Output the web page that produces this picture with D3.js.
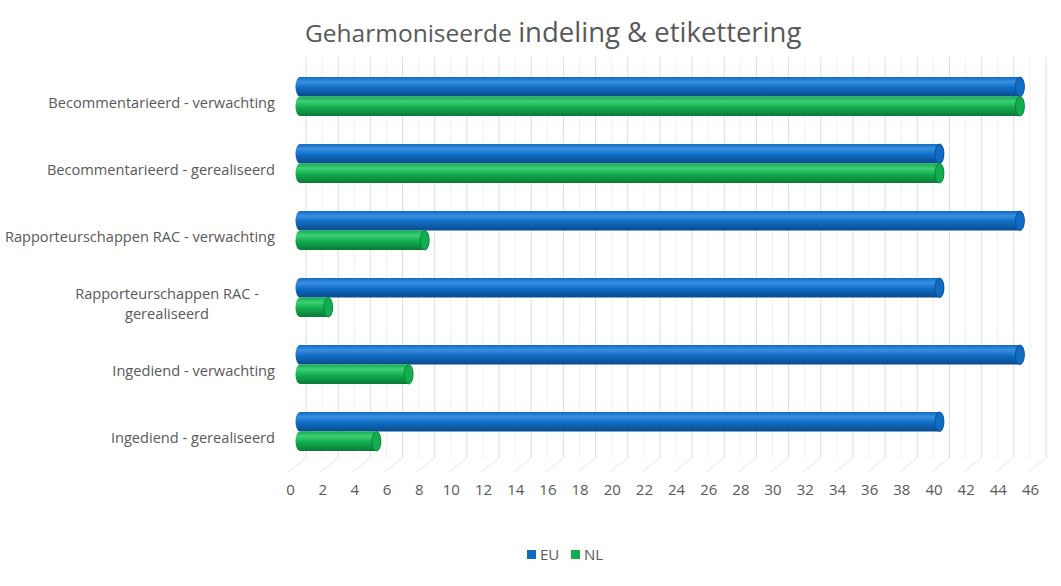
<!DOCTYPE html>
<html><head><meta charset="utf-8">
<script src="https://cdn.jsdelivr.net/npm/d3@7"></script>
<style>body{margin:0;background:#fff}svg{display:block}text{font-family:"Open Sans","Noto Sans",sans-serif;fill:#595959}</style>
</head><body><svg id="c" width="1061" height="586"></svg>
<script>
const categories = ["Becommentarieerd - verwachting","Becommentarieerd - gerealiseerd","Rapporteurschappen RAC - verwachting","Rapporteurschappen RAC - gerealiseerd","Ingediend - verwachting","Ingediend - gerealiseerd"];
const labelLines = [["Becommentarieerd - verwachting"],["Becommentarieerd - gerealiseerd"],["Rapporteurschappen RAC - verwachting"],["Rapporteurschappen RAC -","gerealiseerd"],["Ingediend - verwachting"],["Ingediend - gerealiseerd"]];
const series = ["EU","NL"];
const euValues = [45,40,45,40,45,40];
const nlValues = [45,40,8,2,7,5];
const tickValues = d3.range(0,47,2);
const colors = {EU:["#3b8fe0","#0f6cc4","#0a4b8c"],NL:["#3fcf74","#12ad4f","#0a7a36"]};

const svg = d3.select("#c");
const x = d3.scaleLinear().domain([0,46]).range([290,1030]);
const y = d3.scaleBand().domain(categories).range([69.5,471.5]);
const ys = d3.scaleBand().domain(series).range([-26,13]);
const depthX = 16, wallTop = 57, wallBottom = 458, floorFront = 472;

const defs = svg.append("defs");
series.forEach(s=>{
  const g = defs.append("linearGradient").attr("id","g"+s).attr("x1",0).attr("y1",0).attr("x2",0).attr("y2",1);
  g.append("stop").attr("offset","0%").attr("stop-color",colors[s][1]);
  g.append("stop").attr("offset","25%").attr("stop-color",colors[s][0]);
  g.append("stop").attr("offset","55%").attr("stop-color",colors[s][1]);
  g.append("stop").attr("offset","100%").attr("stop-color",colors[s][2]);
});

// gridlines (minor then major)
const grid = svg.append("g");
d3.range(1,46,2).forEach(t=>{
  grid.append("line").attr("x1",x(t)+depthX).attr("x2",x(t)+depthX).attr("y1",wallTop).attr("y2",wallBottom).attr("stroke","#f0f0f0");
});
tickValues.forEach(t=>{
  grid.append("line").attr("x1",x(t)+depthX).attr("x2",x(t)+depthX).attr("y1",wallTop).attr("y2",wallBottom).attr("stroke","#dedede");
  grid.append("line").attr("x1",x(t)+depthX).attr("x2",x(t)-2).attr("y1",wallBottom).attr("y2",floorFront).attr("stroke","#e6e6e6");
});

// title
const title = svg.append("text").attr("x",305).attr("y",42);
title.append("tspan").attr("font-size",24.5).text("Geharmoniseerde ");
title.append("tspan").attr("font-size",27.5).text("indeling & etikettering");

// bars
const data = [];
categories.forEach((c,i)=>{ data.push({c,s:"EU",v:euValues[i]}); data.push({c,s:"NL",v:nlValues[i]}); });
const bars = svg.append("g").selectAll("g").data(data).join("g");
const bh = ys.bandwidth(), rx = 4.5;
bars.each(function(d){
  const g = d3.select(this);
  const y0 = y(d.c)+y.bandwidth()/2+ys(d.s);
  const x0 = x(0)+10, x1 = x(d.v)+6;
  g.append("path").attr("d",`M${x0},${y0} L${x1},${y0} A${rx},${bh/2} 0 0 1 ${x1},${y0+bh} L${x0},${y0+bh} A${rx},${bh/2} 0 0 1 ${x0},${y0} Z`).attr("fill",`url(#g${d.s})`);
  g.append("ellipse").attr("cx",x1).attr("cy",y0+bh/2).attr("rx",rx).attr("ry",bh/2).attr("fill",colors[d.s][1]).attr("stroke",colors[d.s][2]).attr("stroke-width",0.8);
});

// category labels
const lab = svg.append("g");
categories.forEach((c,i)=>{
  const lines = labelLines[i];
  const cy = y(c)+y.bandwidth()/2;
  const t = lab.append("text").attr("text-anchor","middle").attr("font-size",14.6);
  lines.forEach((l,j)=>{
    t.append("tspan").attr("x", lines.length>1 ? 167 : 275).attr("y", cy + 5 + (j-(lines.length-1)/2)*20).text(l);
  });
  if(lines.length===1) t.attr("text-anchor","end");
});

// x axis
const ax = svg.append("g").attr("transform","translate(0,484)").call(d3.axisBottom(x).tickValues(tickValues).tickSize(0).tickPadding(0));
ax.select(".domain").remove();
ax.selectAll("text").attr("font-size",15).attr("fill","#595959").style("font-family",'"Open Sans","Noto Sans",sans-serif');

// legend
const leg = svg.append("g");
series.forEach((s,i)=>{
  const lx = 527 + i*44;
  leg.append("rect").attr("x",lx).attr("y",550).attr("width",9).attr("height",9).attr("fill",colors[s][1]);
  leg.append("text").attr("x",lx+13).attr("y",560).attr("font-size",15).text(s);
});
</script></body></html>
